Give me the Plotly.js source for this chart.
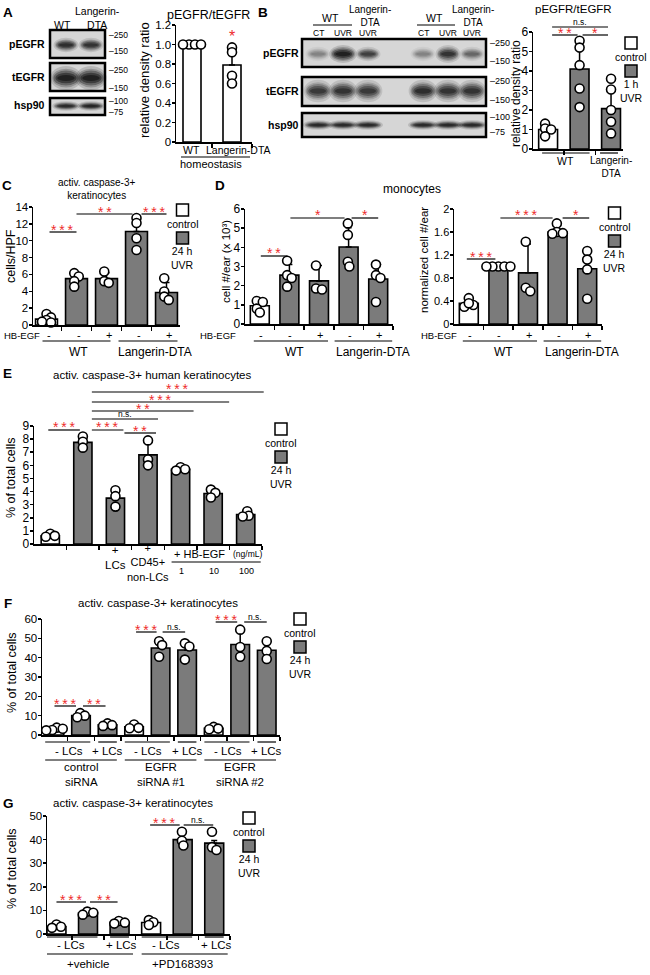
<!DOCTYPE html>
<html><head><meta charset="utf-8">
<script src="https://cdn.plot.ly/plotly-3.0.1.min.js"></script>
<style>html,body{margin:0;padding:0;background:#fff;}#fig{width:650px;height:975px;}</style>
</head><body><div id="fig"></div>
<script>
// ---------------- DATA ----------------
// Panel A: pEGFR/tEGFR, homeostasis
const A_cats = ['WT', 'Langerin-DTA'];
const A_treat = ['control', 'control'];
const A_mean = [1.0, 0.79];
const A_err = [0.01, 0.17];
const A_pts = [[1.0, 1.0, 1.0, 1.0], [0.97, 0.92, 0.68, 0.60]];
const A_yticks = [0, 0.2, 0.4, 0.6, 0.8, 1.0, 1.2];
const A_yticktext = ['0', '0.2', '0.4', '0.6', '0.8', '1.0', '1.2'];
const A_blotRows = ['pEGFR', 'tEGFR', 'hsp90'];
const A_blotLanes = ['WT', 'Langerin-DTA'];
const A_blotIntensity = [[0.85, 0.8], [1.0, 1.0], [0.9, 0.95]];
const A_markers = [['250', '150'], ['250', '150'], ['100', '75']];

// Panel B: pEGFR/tEGFR, 1 h UVR
const B_cats = ['WT control', 'WT UVR', 'Langerin-DTA UVR'];
const B_treat = ['control', 'UVR', 'UVR'];
const B_mean = [1.0, 4.1, 2.07];
const B_err = [0.2, 1.4, 1.0];
const B_pts = [[1.3, 1.05, 1.0, 0.65], [5.55, 5.2, 4.3, 3.1, 2.15], [3.6, 3.05, 2.0, 1.4, 0.8]];
const B_yticks = [0, 1, 2, 3, 4, 5, 6];
const B_blotLanes = ['CT', 'UVR', 'UVR', 'CT', 'UVR', 'UVR'];
const B_blotIntensity = [[0.3, 1.0, 0.7, 0.3, 0.8, 0.45], [0.75, 0.8, 0.75, 0.85, 0.8, 0.8], [0.9, 0.9, 0.9, 0.9, 0.9, 0.9]];
const B_markers = [['250', '150'], ['250', '150'], ['100', '75']];

// Panel C: activ. caspase-3+ keratinocytes (cells/HPF)
const C_cats = ['WT control', 'WT UVR', 'WT UVR+HB-EGF', 'LDTA UVR', 'LDTA UVR+HB-EGF'];
const C_treat = ['control', 'UVR', 'UVR', 'UVR', 'UVR'];
const C_hbegf = ['-', '-', '+', '-', '+'];
const C_mean = [0.7, 5.5, 5.5, 11.1, 3.85];
const C_err = [0.4, 0.7, 0.7, 1.8, 1.2];
const C_pts = [[1.3, 0.9, 0.6, 0.4, 0.3], [6.15, 5.75, 5.2, 4.55], [6.35, 5.2, 5.0], [12.7, 12.1, 10.3, 8.9], [5.55, 3.97, 3.37, 2.98]];
const C_yticks = [0, 2, 4, 6, 8, 10, 12, 14];

// Panel D: monocytes
const D1_mean = [0.95, 2.55, 2.25, 4.02, 2.35];
const D1_err = [0.3, 0.55, 0.8, 1.0, 0.75];
const D1_pts = [[1.2, 1.15, 0.8, 0.6], [3.3, 2.55, 2.4, 1.95], [3.05, 1.85, 1.8], [5.25, 4.65, 3.25, 3.0], [3.1, 2.55, 2.4, 1.15]];
const D1_yticks = [0, 1, 2, 3, 4, 5, 6];
const D2_mean = [0.36, 1.0, 0.89, 1.6, 0.96];
const D2_err = [0.07, 0.0, 0.5, 0.1, 0.36];
const D2_pts = [[0.45, 0.33, 0.3, 0.36], [1, 1, 1, 1, 1], [1.43, 0.63, 0.57], [1.75, 1.6, 1.57, 1.58], [1.27, 1.12, 0.95, 0.44]];
const D2_yticks = [0, 0.4, 0.8, 1.2, 1.6, 2];
const D2_yticktext = ['0', '0.4', '0.8', '1.2', '1.6', '2'];

// Panel E: human keratinocytes
const E_cats = ['control', 'UVR', '+LCs', '+CD45+ non-LCs', 'HB-EGF 1', 'HB-EGF 10', 'HB-EGF 100'];
const E_treat = ['control', 'UVR', 'UVR', 'UVR', 'UVR', 'UVR', 'UVR'];
const E_mean = [0.62, 7.75, 3.5, 6.8, 5.7, 3.85, 2.25];
const E_err = [0.1, 0.35, 0.6, 1.05, 0.12, 0.3, 0.2];
const E_pts = [[0.78, 0.62, 0.55], [8.2, 7.8, 7.35], [4.1, 3.65, 2.85], [7.9, 6.45, 6.0], [5.85, 5.7, 5.6], [4.15, 3.9, 3.55], [2.5, 2.15, 2.1]];
const E_yticks = [0, 1, 2, 3, 4, 5, 6, 7, 8, 9];
const E_hbegfDoses = ['1', '10', '100'];

// Panel F: siRNA
const F_cats = ['ctrl siRNA control', 'ctrl siRNA UVR -LCs', 'ctrl siRNA UVR +LCs', 'EGFR#1 control', 'EGFR#1 UVR -LCs', 'EGFR#1 UVR +LCs', 'EGFR#2 control', 'EGFR#2 UVR -LCs', 'EGFR#2 UVR +LCs'];
const F_treat = ['control', 'UVR', 'UVR', 'control', 'UVR', 'UVR', 'control', 'UVR', 'UVR'];
const F_mean = [3.0, 10.1, 5.3, 4.2, 45, 44, 3.5, 46.8, 43.8];
const F_err = [0.6, 1.0, 0.7, 1.1, 4.0, 4.3, 0.6, 7.0, 4.6];
const F_pts = [[3.8, 3.2, 2.6, 2.4], [11.3, 10.0, 9.2], [6.0, 5.1, 4.7], [5.4, 3.7, 3.5], [48.5, 46.5, 40.5], [47.4, 45.8, 39], [4.2, 3.3, 3.0], [54.5, 45.5, 40.5], [48.5, 43.5, 39.3]];
const F_yticks = [0, 10, 20, 30, 40, 50, 60];
const F_groups = [['control', 'siRNA'], ['EGFR', 'siRNA #1'], ['EGFR', 'siRNA #2']];

// Panel G: PD168393
const G_cats = ['vehicle control', 'vehicle UVR -LCs', 'vehicle UVR +LCs', 'PD control', 'PD UVR -LCs', 'PD UVR +LCs'];
const G_treat = ['control', 'UVR', 'UVR', 'control', 'UVR', 'UVR'];
const G_mean = [3.2, 8.9, 4.9, 4.9, 40, 38.5];
const G_err = [0.6, 0.5, 0.5, 0.9, 2.6, 1.1];
const G_pts = [[4.0, 3.1, 2.6], [9.5, 9.0, 8.2], [5.5, 4.8, 4.4], [5.9, 5.0, 3.8], [43.3, 39.5, 37.5], [43.3, 36.8, 35.6]];
const G_yticks = [0, 10, 20, 30, 40, 50];
const G_groups = ['+vehicle', '+PD168393'];

// ---------------- DRAWING ----------------
const W = 650, H = 975;
const GRAY = '#7b7b7b';
const RED = '#ee2c2c';
const FONT = 'Liberation Sans, Arial, Helvetica, sans-serif';
const shapes = [], ann = [], traces = [];
const layout = {width: W, height: H, margin: {l: 0, r: 0, t: 0, b: 0}, showlegend: false,
  paper_bgcolor: '#fff', plot_bgcolor: 'rgba(0,0,0,0)', font: {family: FONT, color: '#000'}, bargap: 0};

function T(x, y, text, size, o) {
  o = o || {};
  ann.push({xref: 'paper', yref: 'paper', x: x / W, y: 1 - y / H, text: text, showarrow: false,
    font: {size: size, color: o.color || '#000', family: FONT}, xanchor: o.xa || 'center', yanchor: o.ya || 'middle',
    textangle: o.rot || 0, borderpad: 0});
}
function L(x0, y0, x1, y1, w, color) {
  shapes.push({type: 'line', xref: 'paper', yref: 'paper', x0: x0 / W, y0: 1 - y0 / H, x1: x1 / W, y1: 1 - y1 / H,
    line: {color: color || '#000', width: w || 1.2}});
}
function R(x0, y0, x1, y1, fill, lw) {
  shapes.push({type: 'rect', xref: 'paper', yref: 'paper', x0: x0 / W, y0: 1 - y1 / H, x1: x1 / W, y1: 1 - y0 / H,
    fillcolor: fill, line: {color: '#000', width: lw === undefined ? 1.2 : lw}});
}
function EL(cx, cy, w, h, fill) {
  shapes.push({type: 'circle', xref: 'paper', yref: 'paper', x0: (cx - w / 2) / W, x1: (cx + w / 2) / W,
    y0: 1 - (cy + h / 2) / H, y1: 1 - (cy - h / 2) / H, fillcolor: fill, line: {width: 0}});
}
function band(cx, cy, w, h, k) {
  EL(cx, cy, w * 1.25, h * 1.6, 'rgba(0,0,0,' + (0.14 * k) + ')');
  EL(cx, cy, w * 1.1, h * 1.25, 'rgba(0,0,0,' + (0.2 * k) + ')');
  EL(cx, cy, w, h, 'rgba(0,0,0,' + (0.3 * k) + ')');
  EL(cx, cy, w * 0.85, h * 0.7, 'rgba(0,0,0,' + (0.4 * k) + ')');
  EL(cx, cy, w * 0.7, h * 0.4, 'rgba(0,0,0,' + (0.45 * k) + ')');
}

function swarm(vals, uY, uX) {
  const order = vals.map((v, i) => i).sort((a, b) => vals[b] - vals[a]);
  const placed = [], off = new Array(vals.length).fill(0);
  const minD = 4.8, step = 1.5;
  for (const i of order) {
    const yp = vals[i] * uY;
    for (let k = 0; k < 60; k++) {
      const dx = (k % 2 === 1 ? 1 : -1) * Math.ceil(k / 2) * step;
      if (placed.every(p => Math.hypot(p.x - dx, p.y - yp) >= minD)) { placed.push({x: dx, y: yp}); off[i] = dx; break; }
    }
  }
  const mx = Math.max(...off), mn = Math.min(...off), c = (mx + mn) / 2;
  return off.map(o => (o - c) / uX);
}

const charts = {
  A: {cats: A_cats, treat: A_treat, mean: A_mean, err: A_err, pts: A_pts, yt: A_yticks, ytt: A_yticktext, box: [176, 252, 25, 142], xr: [-0.4, 1.5], bw: 0.45, tf: 11.5},
  B: {cats: B_cats, treat: B_treat, mean: B_mean, err: B_err, pts: B_pts, yt: B_yticks, box: [533, 623, 32, 149], xr: [-0.48, 2.38], bw: 0.6, tf: 12},
  C: {cats: C_cats, treat: C_treat, mean: C_mean, err: C_err, pts: C_pts, yt: C_yticks, box: [33, 180, 207, 325], xr: [-0.45, 4.45], bw: 0.73, tf: 11.5},
  D1: {cats: C_cats, treat: C_treat, mean: D1_mean, err: D1_err, pts: D1_pts, yt: D1_yticks, box: [245, 393, 209, 324], xr: [-0.5, 4.5], bw: 0.64, tf: 12},
  D2: {cats: C_cats, treat: C_treat, mean: D2_mean, err: D2_err, pts: D2_pts, yt: D2_yticks, ytt: D2_yticktext, box: [454, 602, 209, 324], xr: [-0.5, 4.5], bw: 0.64, tf: 11},
  E: {cats: E_cats, treat: E_treat, mean: E_mean, err: E_err, pts: E_pts, yt: E_yticks, box: [34, 262, 426, 544], xr: [-0.5, 6.5], bw: 0.56, tf: 12},
  F: {cats: F_cats, treat: F_treat, mean: F_mean, err: F_err, pts: F_pts, yt: F_yticks, box: [42, 280, 619, 735], xr: [-0.47, 8.5], bw: 0.7, tf: 11.5},
  G: {cats: G_cats, treat: G_treat, mean: G_mean, err: G_err, pts: G_pts, yt: G_yticks, box: [47, 230, 816, 934], xr: [-0.3, 5.5], bw: 0.6, tf: 11.5}
};

Object.keys(charts).forEach((key, k) => {
  const c = charts[key];
  const n = k + 1;
  const xa = n === 1 ? 'x' : 'x' + n, ya = n === 1 ? 'y' : 'y' + n;
  c.yr = [0, c.yt[c.yt.length - 1]];
  c.ux = (c.box[1] - c.box[0]) / (c.xr[1] - c.xr[0]);
  c.uy = (c.box[3] - c.box[2]) / (c.yr[1] - c.yr[0]);
  c.cx = i => c.box[0] + (i - c.xr[0]) * c.ux;
  const idx = c.cats.map((_, i) => i);
  traces.push({type: 'bar', x: idx, y: c.mean, width: c.bw, xaxis: xa, yaxis: ya, hoverinfo: 'skip',
    marker: {color: c.treat.map(t => t === 'control' ? '#ffffff' : GRAY), line: {color: '#000', width: 1.6}},
    error_y: {type: 'data', symmetric: false, array: c.err, arrayminus: c.err.map(() => 0), color: '#000', thickness: 1.5, width: 3}});
  const px = [], py = [];
  c.pts.forEach((vals, i) => { const off = swarm(vals, c.uy, c.ux); vals.forEach((v, j) => { px.push(i + off[j]); py.push(v); }); });
  traces.push({type: 'scatter', mode: 'markers', x: px, y: py, xaxis: xa, yaxis: ya, cliponaxis: false, hoverinfo: 'skip',
    marker: {size: 9, color: '#fff', line: {color: '#000', width: 1.6}}});
  layout[n === 1 ? 'xaxis' : 'xaxis' + n] = {domain: [c.box[0] / W, c.box[1] / W], range: c.xr, anchor: ya,
    showline: true, linecolor: '#000', linewidth: 1.5, ticks: 'outside', ticklen: 4, tickwidth: 1.5, tickcolor: '#000',
    tickmode: 'array', tickvals: idx.map(i => i + 0.5), showticklabels: false, showgrid: false, zeroline: false, fixedrange: true};
  layout[n === 1 ? 'yaxis' : 'yaxis' + n] = {domain: [1 - c.box[3] / H, 1 - c.box[2] / H], range: c.yr, anchor: xa,
    showline: true, linecolor: '#000', linewidth: 1.5, ticks: 'outside', ticklen: 3, tickwidth: 1.5, tickcolor: '#000',
    ticklabelstandoff: -2,
    tickmode: 'array', tickvals: c.yt, ticktext: c.ytt || c.yt.map(String), tickfont: {size: c.tf, color: '#000', family: FONT},
    showgrid: false, zeroline: false, fixedrange: true};
});

// significance: [a, dxa, b, dxb, label, y]
function sig(c, list) {
  list.forEach(s => {
    const x0 = c.cx(s[0]) + s[1], x1 = c.cx(s[2]) + s[3], y = s[5];
    const ns = s[4] === 'n.s.';
    L(x0, y, x1, y, 1.2, '#000');
    if (ns) T((x0 + x1) / 2, y + 0.5, 'n.s.', 8.5, {ya: 'bottom'});
    else T((x0 + x1) / 2, y + 6.5, s[4].split('').join('\u2009'), 14, {ya: 'bottom', color: RED});
  });
}
function legend(x, top, l1) {
  R(x - 6, top, x + 6, top + 12, '#fff', 1.5);
  T(x, top + 20, 'control', 10.5);
  R(x - 6, top + 28, x + 6, top + 40, GRAY, 1.5);
  T(x, top + 54, l1 + '<br>UVR', 10.5);
}
function ytitle(x, y, text, size) { T(x, y, text, size, {rot: -90}); }

// ---- Panel letters
[['A', 8, 13], ['B', 263, 13], ['C', 7, 185], ['D', 220, 185], ['E', 7, 373], ['F', 8, 603], ['G', 8, 803]].forEach(p => T(p[1], p[2], '<b>' + p[0] + '</b>', 13.5));

// ---- Panel A blot
{
  const rows = [[30, 58], [63, 91], [98, 115]];
  const lanes = [66, 91];
  const cys = [45, 78, 106], hs = [9, 15, 6], ws = [20, 25, 22];
  rows.forEach((r, ri) => {
    R(50, r[0], 105, r[1], '#d6d6d6', 2.5);
    lanes.forEach((lx, li) => band(lx, cys[ri], ws[ri], hs[ri], A_blotIntensity[ri][li]));
    T(46, (r[0] + r[1]) / 2 + (ri === 2 ? -1 : 0), '<b>' + A_blotRows[ri] + '</b>', 10.5, {xa: 'right'});
  });
  const my = [[35, 51], [70, 88], [101, 112]];
  A_markers.forEach((m, ri) => { T(108, my[ri][0], '–' + m[0], 8.5, {xa: 'left'}); T(108, my[ri][1], '–' + m[1], 8.5, {xa: 'left'}); });
  T(63, 25, A_blotLanes[0], 10.5);
  T(97, 18, 'Langerin-<br>DTA', 10.5);
}
// ---- Panel A chart
{
  const c = charts.A;
  T(208, 15, 'pEGFR/tEGFR', 12.5);
  ytitle(144, 80, 'relative density ratio', 13);
  T(c.cx(1), 37, '*', 16, {color: RED});
  T(191, 150, 'WT', 10.5); T(238, 150, 'Langerin-DTA', 10.5);
  L(181, 157, 250, 157, 1.2);
  T(211, 164, 'homeostasis', 11);
}
// ---- Panel B blot
{
  const rows = [[39, 67], [77, 106], [113, 137]];
  const lanes = [318, 343, 368, 423, 448, 472];
  const cys = [54, 91, 125], hs = [9, 14, 6], ws = [20, 23, 24];
  rows.forEach((r, ri) => {
    R(302, r[0], 486, r[1], '#d6d6d6', 2.5);
    lanes.forEach((lx, li) => band(lx, cys[ri], ws[ri] * (ri === 0 && li === 1 ? 1.1 : 1), hs[ri] * (ri === 0 && (li === 1 || li === 4) ? 1.25 : 1), B_blotIntensity[ri][li]));
    T(300, (r[0] + r[1]) / 2, '<b>' + A_blotRows[ri] + '</b>', 10.5, {xa: 'right'});
  });
  const my = [[43, 61], [81, 100], [117, 132]];
  B_markers.forEach((m, ri) => { T(489, my[ri][0], '–' + m[0], 9, {xa: 'left'}); T(489, my[ri][1], '–' + m[1], 9, {xa: 'left'}); });
  lanes.forEach((lx, li) => T(lx, 33, B_blotLanes[li], 8.5));
  [[330, 313, 352, 370], [435, 417, 455, 473]].forEach(g => {
    T(g[0], 18, 'WT', 10.5); L(g[1], 25, g[2], 25, 1.2);
    T(g[3], 16, 'Langerin-<br>DTA', 10);
  });
}
// ---- Panel B chart
{
  const c = charts.B;
  T(573, 9, 'pEGFR/tEGFR', 11.5);
  ytitle(516, 94, 'relative density ratio', 12);
  sig(c, [[0, 4, 2, -3, 'n.s.', 27], [0, 4, 1, -2, '**', 35], [1, 3, 2, -3, '*', 35]]);
  legend(631, 37, '1 h');
  L(c.cx(0) - 6, 153, c.cx(1) + 10, 153, 1.2);
  T((c.cx(0) + c.cx(1)) / 2 + 2, 161, 'WT', 10.5);
  L(c.cx(2) - 11, 153, c.cx(2) + 7, 153, 1.2);
  T(c.cx(2), 167, 'Langerin-<br>DTA', 10);
}
// ---- Panel C
{
  const c = charts.C;
  T(97, 189, 'activ. caspase-3+<br>keratinocytes', 10);
  ytitle(11, 256, 'cells/HPF', 12.5);
  sig(c, [[0, 3, 1, 0, '***', 232], [1, 0, 3, -4, '**', 214], [3, 5, 4, 0, '***', 214]]);
  legend(182.5, 204, '24 h');
  T(41, 335, 'HB-EGF', 9.5, {xa: 'right'});
  C_hbegf.forEach((s, i) => T(c.cx(i) + 2, 335, s, 11));
  L(c.cx(0) - 4, 341, c.cx(2) + 4, 341, 1.2); L(c.cx(3) - 18, 341, c.cx(4) + 11, 341, 1.2);
  T(78, 352, 'WT', 12); T(155, 352, 'Langerin-DTA', 12);
}
// ---- Panel D
{
  T(412, 189, 'monocytes', 12);
  const c1 = charts.D1, c2 = charts.D2;
  ytitle(226, 262, 'cell #/ear (x 10³)', 11.5);
  ytitle(424, 260, 'normalized cell #/ear', 11.5);
  sig(c1, [[0, 1, 1, -2, '**', 256], [1, 1, 3, -4, '*', 218], [3, 3, 4, 0, '*', 218]]);
  sig(c2, [[0, -2, 1, -3, '***', 259], [1, 2, 3, -5, '***', 218], [3, 5, 4, 2, '*', 218]]);
  legend(614.5, 207, '24 h');
  [[c1, 237], [c2, 458]].forEach(p => {
    const c = p[0];
    T(p[1], 335, 'HB-EGF', 9.5, {xa: 'right'});
    C_hbegf.forEach((s, i) => T(c.cx(i) + 1, 335, s, 11));
    L(c.cx(0) - 6, 341, c.cx(2) + 9, 341, 1.2); L(c.cx(3) - 14, 341, c.cx(4) + 14, 341, 1.2);
    T((c.cx(0) + c.cx(2)) / 2 + 5, 352, 'WT', 12); T((c.cx(3) + c.cx(4)) / 2 + 10, 352, 'Langerin-DTA', 12);
  });
}
// ---- Panel E
{
  const c = charts.E;
  T(152, 375, 'activ. caspase-3+ human keratinocytes', 11.5);
  ytitle(11, 478, '% of total cells', 12.5);
  sig(c, [[1, 9, 6, 18, '***', 392], [1, 9, 5, 16, '***', 402], [1, 9, 4, 13, '**', 411], [1, 9, 3, 10, 'n.s.', 419],
          [0, -2, 1, -3, '***', 430], [1, 9, 2, 8, '***', 430], [2, 9, 3, 8, '**', 433]]);
  legend(281, 423, '24 h');
  T(c.cx(2), 557, '+<br>LCs', 11.5);
  T(c.cx(3), 562, '+<br>CD45+<br>non-LCs', 11);
  T(c.cx(4) - 8, 554, '+ HB-EGF', 11, {xa: 'left'});
  T(c.cx(6) - 14, 554, '(ng/mL)', 8.5, {xa: 'left'});
  L(c.cx(4) - 9, 562, c.cx(6) + 15, 562, 1.2);
  E_hbegfDoses.forEach((d, i) => T(c.cx(4 + i) + 1, 571, d, 9));
}
// ---- Panel F
{
  const c = charts.F;
  const hw = c.bw / 2 * c.ux;
  T(158, 603, 'activ. caspase-3+ keratinocytes', 11.5);
  ytitle(12, 673, '% of total cells', 12.5);
  sig(c, [[0, 0, 1, -5, '***', 706], [1, 2, 2, -2, '**', 706], [3, 2, 4, -4, '***', 632], [4, 2, 5, -2, 'n.s.', 632],
          [6, 2, 7, -3, '***', 622], [7, 4, 8, 0, 'n.s.', 622]]);
  legend(300, 613, '24 h');
  for (let g = 0; g < 3; g++) {
    const a = g * 3;
    L(c.cx(a) - hw, 742, c.cx(a + 1) + hw, 742, 1.2);
    L(c.cx(a + 2) - hw, 742, c.cx(a + 2) + hw, 742, 1.2);
    T((c.cx(a) + c.cx(a + 1)) / 2 + 1, 751, '- LCs', 11.5);
    T(c.cx(a + 2), 751, '+ LCs', 11.5);
    L(c.cx(a) - hw, 760, c.cx(a + 2) + hw, 760, 1.2);
    const gx = (c.cx(a) - hw + c.cx(a + 2) + hw) / 2;
    T(gx, 774, F_groups[g][0] + '<br>' + F_groups[g][1], 11.5);
  }
}
// ---- Panel G
{
  const c = charts.G;
  const hw = c.bw / 2 * c.ux;
  T(133, 803, 'activ. caspase-3+ keratinocytes', 11.5);
  ytitle(12, 869, '% of total cells', 12.5);
  sig(c, [[0, 0, 1, -2, '***', 902], [1, 2, 2, -2, '**', 902], [3, -1, 4, -3, '***', 825], [4, 1, 5, -1, 'n.s.', 825]]);
  legend(249, 812, '24 h');
  for (let g = 0; g < 2; g++) {
    const a = g * 3;
    L(c.cx(a) - hw, 937, c.cx(a + 1) + hw, 937, 1.2);
    L(c.cx(a + 2) - hw, 937, c.cx(a + 2) + hw, 937, 1.2);
    T((c.cx(a) + c.cx(a + 1)) / 2 - 1, 945, '- LCs', 11.5);
    T(c.cx(a + 2) + 2, 945, '+ LCs', 11.5);
    L(c.cx(a) - hw, 954, c.cx(a + 2) + hw + 4, 954, 1.2);
    T((c.cx(a) + c.cx(a + 2)) / 2, 964, G_groups[g], 11.5);
  }
}

layout.shapes = shapes;
layout.annotations = ann;
Plotly.newPlot('fig', traces, layout, {staticPlot: true, displayModeBar: false});
</script></body></html>
